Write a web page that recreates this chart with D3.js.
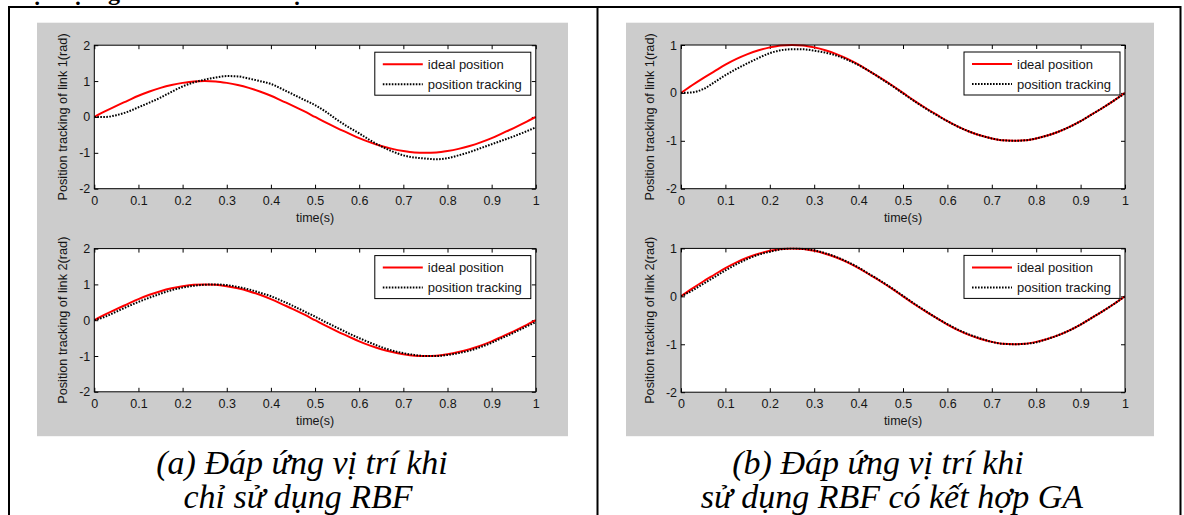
<!DOCTYPE html>
<html>
<head>
<meta charset="utf-8">
<script src="https://cdn.jsdelivr.net/npm/d3@7"></script>
<style>
  html, body { margin: 0; padding: 0; background: #fff; overflow: hidden; }
  svg { display: block; }
</style>
</head>
<body>
<svg id="fig" width="1184" height="515"></svg>
<script>
// Sample instants (s)
const sampleTimes = [
  0.000, 0.025, 0.050, 0.075, 0.100, 0.125, 0.150, 0.175, 0.200, 0.225,
  0.250, 0.275, 0.300, 0.325, 0.350, 0.375, 0.400, 0.425, 0.450, 0.475,
  0.500, 0.525, 0.550, 0.575, 0.600, 0.625, 0.650, 0.675, 0.700, 0.725,
  0.750, 0.775, 0.800, 0.825, 0.850, 0.875, 0.900, 0.925, 0.950, 0.975, 1.000
];

// Reference trajectory (rad), identical for both links
const idealPosition = [
  0.00, 0.16, 0.31, 0.45, 0.59, 0.71, 0.81, 0.89, 0.95, 0.99,
  1.00, 0.99, 0.95, 0.89, 0.81, 0.71, 0.59, 0.45, 0.31, 0.16,
  0.00, -0.16, -0.31, -0.45, -0.59, -0.71, -0.81, -0.89, -0.95, -0.99,
  -1.00, -0.99, -0.95, -0.89, -0.81, -0.71, -0.59, -0.45, -0.31, -0.16, 0.00
];

// Tracked position with the RBF controller only
const trackingRbfLink1 = [
  0.00, 0.00, 0.05, 0.14, 0.27, 0.40, 0.54, 0.70, 0.85, 0.96,
  1.04, 1.10, 1.14, 1.13, 1.07, 1.00, 0.92, 0.78, 0.63, 0.48,
  0.33, 0.14, -0.08, -0.28, -0.46, -0.65, -0.82, -0.96, -1.07, -1.13,
  -1.16, -1.18, -1.15, -1.07, -0.98, -0.87, -0.76, -0.65, -0.54, -0.42, -0.29
];
const trackingRbfLink2 = [
  0.00, 0.10, 0.24, 0.38, 0.51, 0.63, 0.74, 0.84, 0.91, 0.96,
  0.99, 1.00, 0.98, 0.93, 0.86, 0.77, 0.67, 0.54, 0.40, 0.25,
  0.10, -0.06, -0.21, -0.36, -0.50, -0.63, -0.75, -0.85, -0.92, -0.97,
  -1.00, -1.00, -0.97, -0.92, -0.85, -0.75, -0.63, -0.49, -0.35, -0.20, -0.05
];

// Tracked position with the RBF controller tuned by GA
const trackingGaLink1 = [
  0.00, 0.01, 0.08, 0.22, 0.37, 0.50, 0.62, 0.73, 0.83, 0.89,
  0.91, 0.91, 0.88, 0.84, 0.78, 0.69, 0.58, 0.45, 0.30, 0.15,
  -0.01, -0.17, -0.32, -0.46, -0.59, -0.71, -0.81, -0.89, -0.95, -0.99,
  -1.00, -0.99, -0.95, -0.89, -0.81, -0.71, -0.59, -0.45, -0.31, -0.16, -0.01
];
const trackingGaLink2 = [
  0.00, 0.12, 0.26, 0.40, 0.54, 0.67, 0.78, 0.87, 0.93, 0.98,
  1.00, 0.99, 0.96, 0.90, 0.82, 0.72, 0.60, 0.46, 0.32, 0.17,
  0.01, -0.15, -0.30, -0.45, -0.58, -0.70, -0.80, -0.88, -0.95, -0.99,
  -1.00, -0.99, -0.96, -0.89, -0.81, -0.71, -0.59, -0.45, -0.31, -0.16, 0.00
];

// Axis ticks and labels
const xTickValues = [0, 0.1, 0.2, 0.3, 0.4, 0.5, 0.6, 0.7, 0.8, 0.9, 1];
const yTicksRbf = [-2, -1, 0, 1, 2];
const yTicksGa = [-2, -1, 0, 1];
const legendLabels = ["ideal position", "position tracking"];
const yAxisTitles = ["Position tracking of link 1(rad)", "Position tracking of link 2(rad)"];
const xAxisTitle = "time(s)";
const captionLeft = ["(a) Đáp ứng vị trí khi", "chỉ sử dụng RBF"];
const captionRight = ["(b) Đáp ứng vị trí khi", "sử dụng RBF có kết hợp GA"];
const headingFragments = ["ị", "ụ", "g", "ộ"];

const SANS = "'Liberation Sans', Arial, Helvetica, sans-serif";
const SERIF = "'Liberation Serif', 'Times New Roman', serif";
const INK = "#151515";

const svg = d3.select("#fig");
svg.append("rect").attr("width", 1184).attr("height", 515).attr("fill", "#fff");

// Heading line running off the top of the page (only under-dots and descenders show)
const headingX = [37, 78, 114, 297];
const heading = svg.append("text")
  .attr("y", 0)
  .attr("font-family", SERIF)
  .attr("font-weight", "bold")
  .attr("font-size", 24)
  .attr("fill", "#000")
  .attr("text-anchor", "middle");
heading.selectAll("tspan").data(headingFragments).join("tspan")
  .attr("x", (d, i) => headingX[i])
  .text(d => d);

// Grey figure backgrounds
const figureBoxes = [
  { x: 37, y: 22.7, w: 531, h: 413.5 },
  { x: 626, y: 22.7, w: 528, h: 413.5 }
];
svg.selectAll("rect.figbg").data(figureBoxes).join("rect")
  .attr("class", "figbg")
  .attr("x", d => d.x).attr("y", d => d.y)
  .attr("width", d => d.w).attr("height", d => d.h)
  .attr("fill", "#cccccc");

// Panel definitions
const panels = [
  { left: 94.3, right: 535.8, top: 45.2, bottom: 188.7, yDomain: [-2, 2], yTicks: yTicksRbf,
    tracking: trackingRbfLink1, yTitle: yAxisTitles[0] },
  { left: 94.3, right: 535.8, top: 248.6, bottom: 391.8, yDomain: [-2, 2], yTicks: yTicksRbf,
    tracking: trackingRbfLink2, yTitle: yAxisTitles[1] },
  { left: 681, right: 1125, top: 45.0, bottom: 188.7, yDomain: [-2, 1], yTicks: yTicksGa,
    tracking: trackingGaLink1, yTitle: yAxisTitles[0] },
  { left: 681, right: 1125, top: 248.4, bottom: 392.2, yDomain: [-2, 1], yTicks: yTicksGa,
    tracking: trackingGaLink2, yTitle: yAxisTitles[1] }
];

const styleAxisText = sel => sel.selectAll("text")
  .attr("font-family", SANS).attr("font-size", 12.5).attr("fill", INK);

panels.forEach((p, idx) => {
  const x = d3.scaleLinear().domain([0, 1]).range([p.left, p.right]);
  const y = d3.scaleLinear().domain(p.yDomain).range([p.bottom, p.top]);
  const g = svg.append("g");

  // plot area
  g.append("rect")
    .attr("x", p.left).attr("y", p.top)
    .attr("width", p.right - p.left).attr("height", p.bottom - p.top)
    .attr("fill", "#fff");

  const clipId = "clip" + idx;
  g.append("clipPath").attr("id", clipId).append("rect")
    .attr("x", p.left).attr("y", p.top - 1)
    .attr("width", p.right - p.left).attr("height", p.bottom - p.top + 2);

  // axes with inward ticks on all four sides
  const fmt = d => String(d);
  const gxB = g.append("g").attr("transform", `translate(0,${p.bottom})`)
    .call(d3.axisBottom(x).tickValues(xTickValues).tickFormat(fmt)
      .tickSizeInner(-4).tickSizeOuter(0).tickPadding(7));
  const gxT = g.append("g").attr("transform", `translate(0,${p.top})`)
    .call(d3.axisTop(x).tickValues(xTickValues).tickFormat("")
      .tickSizeInner(-4).tickSizeOuter(0));
  const gyL = g.append("g").attr("transform", `translate(${p.left},0)`)
    .call(d3.axisLeft(y).tickValues(p.yTicks).tickFormat(fmt)
      .tickSizeInner(-4).tickSizeOuter(0).tickPadding(4));
  const gyR = g.append("g").attr("transform", `translate(${p.right},0)`)
    .call(d3.axisRight(y).tickValues(p.yTicks).tickFormat("")
      .tickSizeInner(-4).tickSizeOuter(0));
  [gxB, gxT, gyL, gyR].forEach(a => {
    a.select(".domain").remove();
    a.selectAll(".tick line").attr("stroke", "#000").attr("stroke-width", 1);
    styleAxisText(a);
  });

  // curves
  const line = d3.line()
    .x((d, i) => x(sampleTimes[i]))
    .y(d => y(d))
    .curve(d3.curveMonotoneX);
  const curves = g.append("g").attr("clip-path", `url(#${clipId})`);
  curves.append("path").datum(idealPosition)
    .attr("d", line).attr("fill", "none")
    .attr("stroke", "#ff0000").attr("stroke-width", 2);
  curves.append("path").datum(p.tracking)
    .attr("d", line).attr("fill", "none")
    .attr("stroke", "#000").attr("stroke-width", 2)
    .attr("stroke-dasharray", "1.6,1.4");

  // axes box
  g.append("rect")
    .attr("x", p.left).attr("y", p.top)
    .attr("width", p.right - p.left).attr("height", p.bottom - p.top)
    .attr("fill", "none").attr("stroke", "#000").attr("stroke-width", 1);

  // axis titles
  g.append("text")
    .attr("x", (p.left + p.right) / 2).attr("y", p.bottom + 33)
    .attr("text-anchor", "middle")
    .attr("font-family", SANS).attr("font-size", 12.5).attr("fill", INK)
    .text(xAxisTitle);
  g.append("text")
    .attr("transform", `translate(${p.left - 27},${(p.top + p.bottom) / 2}) rotate(-90)`)
    .attr("text-anchor", "middle")
    .attr("font-family", SANS).attr("font-size", 12.7).attr("fill", INK)
    .text(p.yTitle);

  // legend
  const lx = p.right - 161, ly = p.top + 7;
  const lg = g.append("g");
  lg.append("rect").attr("x", lx).attr("y", ly).attr("width", 156).attr("height", 43)
    .attr("fill", "#fff").attr("stroke", "#000").attr("stroke-width", 1);
  const rows = [
    { label: legendLabels[0], stroke: "#ff0000", dash: null },
    { label: legendLabels[1], stroke: "#000", dash: "1.6,1.4" }
  ];
  rows.forEach((r, i) => {
    const ry = ly + 12 + i * 20;
    lg.append("line").attr("x1", lx + 8).attr("x2", lx + 48)
      .attr("y1", ry).attr("y2", ry)
      .attr("stroke", r.stroke).attr("stroke-width", 2)
      .attr("stroke-dasharray", r.dash);
    lg.append("text").attr("x", lx + 53).attr("y", ry).attr("dy", "0.35em")
      .attr("font-family", SANS).attr("font-size", 13).attr("fill", INK)
      .text(r.label);
  });
});

// Captions
const captionStyle = sel => sel
  .attr("text-anchor", "middle")
  .attr("font-family", SERIF).attr("font-style", "italic")
  .attr("font-size", 34).attr("fill", "#000");
const captions = [
  { text: captionLeft[0], x: 302, y: 474 },
  { text: captionLeft[1], x: 298, y: 508 },
  { text: captionRight[0], x: 878, y: 474 },
  { text: captionRight[1], x: 892, y: 508 }
];
captions.forEach(c => svg.append("text").attr("x", c.x).attr("y", c.y)
  .call(captionStyle).text(c.text));

// Table rules
const rules = [
  [8, 7, 1181, 7],
  [9, 6, 9, 515],
  [597.5, 6, 597.5, 515],
  [1180.5, 6, 1180.5, 515]
];
svg.selectAll("line.rule").data(rules).join("line")
  .attr("class", "rule")
  .attr("x1", d => d[0]).attr("y1", d => d[1])
  .attr("x2", d => d[2]).attr("y2", d => d[3])
  .attr("stroke", "#000").attr("stroke-width", 2);
</script>
</body>
</html>
